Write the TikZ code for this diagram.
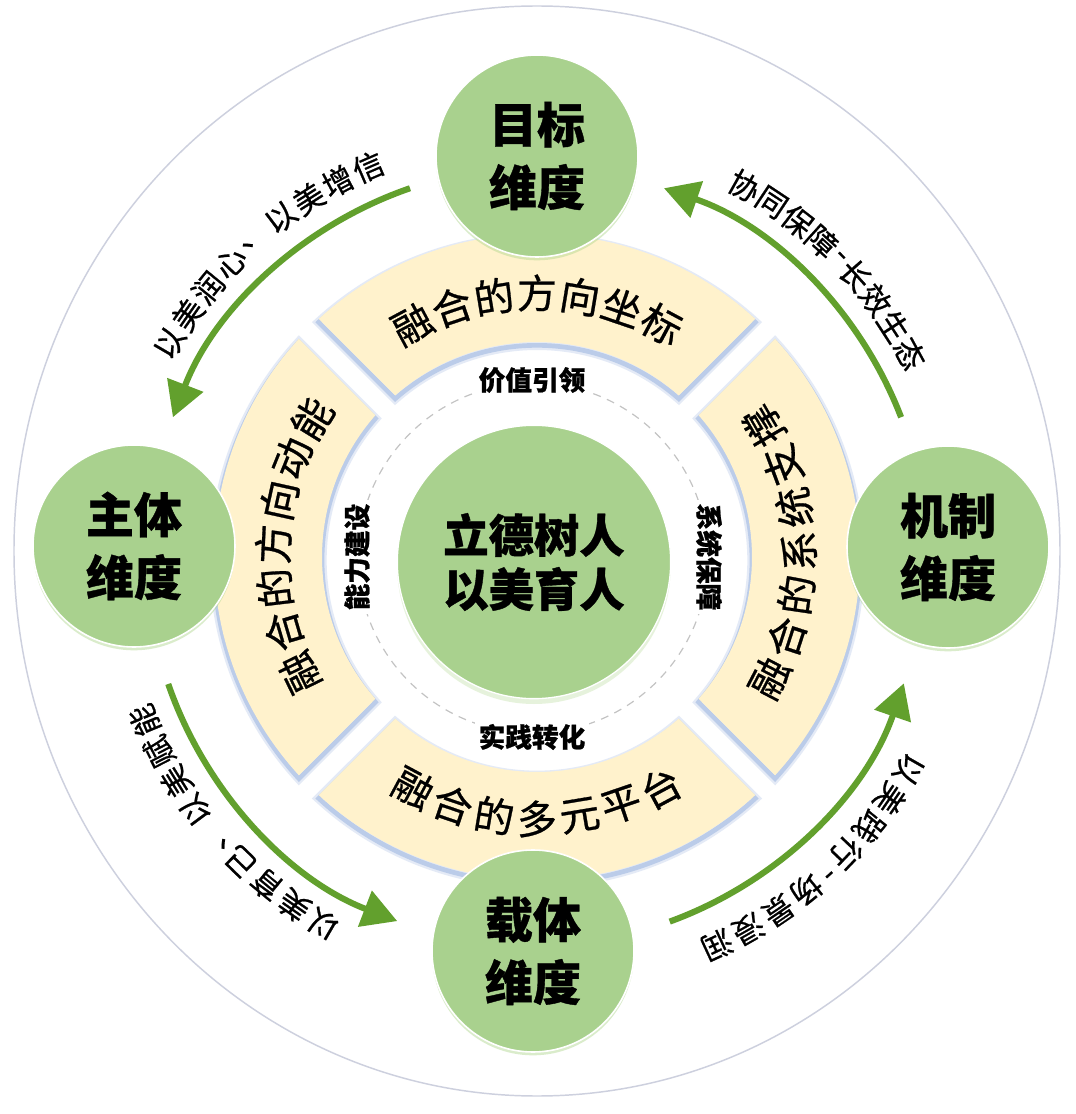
\documentclass[tikz,border=0pt]{standalone}
\usepackage{fontspec}
\newfontfamily\cjk[BoldFeatures={FakeBold=0.8}]{Noto Sans CJK SC}
\newfontfamily\cjkmed[FakeBold=0.7]{Noto Sans CJK SC}
\usetikzlibrary{arrows.meta,shadows}
\definecolor{dimgreen}{RGB}{169,209,142}
\definecolor{glowgreen}{RGB}{175,215,140}
\definecolor{ringyellow}{RGB}{255,242,204}
\definecolor{ringblue}{RGB}{180,199,231}
\definecolor{arrowgreen}{RGB}{98,160,45}
\definecolor{ellgray}{RGB}{205,208,222}
\definecolor{dashgray}{RGB}{195,195,195}
\tikzset{
  dimcircle/.style={circle, fill=dimgreen, draw=white, line width=1.2pt,
    minimum size=151.5pt, inner sep=0pt, align=center,
    font=\cjk\bfseries\fontsize{36}{47}\selectfont,
    drop shadow={shadow xshift=0pt, shadow yshift=-2.5pt, fill=glowgreen, opacity=0.45}},
  corecircle/.style={circle, fill=dimgreen, draw=white, line width=1pt,
    minimum size=205pt, inner sep=0pt, align=center,
    font=\cjk\bfseries\fontsize{34}{40.5}\selectfont,
    drop shadow={shadow xshift=0pt, shadow yshift=-4pt, fill=glowgreen, opacity=0.3}},
  ringtext/.style={font=\cjkmed\fontsize{30}{30}\selectfont, inner sep=0pt},
  arclabel/.style={font=\cjkmed\fontsize{23}{23}\selectfont, inner sep=0pt},
  innerlabel/.style={fill=white, font=\cjk\bfseries\fontsize{20}{20}\selectfont, inner sep=3pt},
  flowarrow/.style={arrowgreen, line width=4.6pt, -{Triangle[length=26pt,width=28pt]}},
}
\begin{document}
\begin{tikzpicture}[x=0.75pt,y=0.75pt]
\useasboundingbox (-537,-557) rectangle (538,557);
\fill[white] (-537,-557) rectangle (538,557);

% outer ellipse
\draw[ellgray, line width=1.1pt] (0,6) ellipse [x radius=523, y radius=545];

% ring segments
\foreach \b in {45,135,225,315} {
  \draw[ringblue!60, line width=7pt, opacity=0.6, yshift=-2.5]
    (\b+2.48:323) arc[start angle=\b+2.48, end angle=\b+87.52, radius=323]
    -- (\b+86.27:215) arc[start angle=\b+86.27, end angle=\b+3.73, radius=215] -- cycle;
  \draw[ringblue, line width=3.5pt, opacity=0.85, yshift=-2.5]
    (\b+2.48:323) arc[start angle=\b+2.48, end angle=\b+87.52, radius=323]
    -- (\b+86.27:215) arc[start angle=\b+86.27, end angle=\b+3.73, radius=215] -- cycle;
  \fill[ringyellow]
    (\b+2.48:323) arc[start angle=\b+2.48, end angle=\b+87.52, radius=323]
    -- (\b+86.27:215) arc[start angle=\b+86.27, end angle=\b+3.73, radius=215] -- cycle;
}

% dashed circle
\draw[dashgray, line width=0.9pt, dash pattern=on 6pt off 5pt] (-4,-1) circle[radius=175];

% inner labels
\node[innerlabel] (lv) at (-5,177) {价值引领};
\node[innerlabel] (lp) at (-5,-180) {实践转化};
\node[innerlabel, rotate=90] (lc) at (-180,0) {能力建设};
\node[innerlabel, rotate=-90] (ls) at (172,0) {系统保障};

% core
\node[corecircle] (core) at (-3,-5) {立德树人\\以美育人};

% ring texts
\foreach \ch [count=\i] in {融,合,的,方,向,坐,标} {
  \pgfmathsetmacro\a{118.2-(\i-1)*9.4}
  \node[ringtext, rotate=\a-90] (rt-\i) at (\a:264) {\ch};
}
\foreach \ch [count=\i] in {融,合,的,方,向,动,能} {
  \pgfmathsetmacro\a{206-(\i-1)*9.6}
  \node[ringtext, rotate=\a-90] (rl-\i) at (\a:264) {\ch};
}
\foreach \ch [count=\i] in {融,合,的,系,统,支,撑} {
  \pgfmathsetmacro\a{-27.5+(\i-1)*9.6}
  \node[ringtext, rotate=\a+90] (rr-\i) at (\a:262) {\ch};
}
\foreach \ch [count=\i] in {融,合,的,多,元,平,台} {
  \pgfmathsetmacro\a{241.8+(\i-1)*9.4}
  \node[ringtext, rotate=\a+90] (rb-\i) at (\a:262) {\ch};
}

% dimension circles
\node[dimcircle] (goal) at (0,401) {目标\\维度};
\node[dimcircle] (subj) at (-403,11) {主体\\维度};
\node[dimcircle] (mech) at (411,10) {机制\\维度};
\node[dimcircle] (carr) at (-4,-394) {载体\\维度};

% flow arrows
\coordinate (a1s) at (109:390); \coordinate (a1e) at (159:390);
\coordinate (a2s) at (21:390);  \coordinate (a2e) at (71:390);
\coordinate (a3s) at (199:390); \coordinate (a3e) at (249:390);
\coordinate (a4s) at (290:388); \coordinate (a4e) at (341:388);
\draw[flowarrow] (a1s) arc[start angle=109, end angle=159, radius=390];
\draw[flowarrow] (a2s) arc[start angle=21, end angle=71, radius=390];
\draw[flowarrow] (a3s) arc[start angle=199, end angle=249, radius=390];
\draw[flowarrow] (a4s) arc[start angle=290, end angle=341, radius=388];

% arrow labels
\foreach \ch/\a [count=\i] in {以/149.8,美/145.25,润/140.7,心/136.15,、/131.6,以/127.05,美/122.5,增/117.95,信/113.4} {
  \node[arclabel, rotate=\a-90] (tl-\i) at (\a:425) {\ch};
}
\foreach \ch/\a [count=\i] in {协/60.8,同/56.5,保/52.2,障/47.9,-/44.7,长/41.5,效/37.2,生/32.9,态/28.6} {
  \node[arclabel, rotate=\a-90] (tr-\i) at (\a:425) {\ch};
}
\foreach \ch/\a [count=\i] in {以/239.8,美/235.15,育/230.5,己/225.85,、/221.2,以/216.55,美/211.9,赋/207.25,能/202.6} {
  \node[arclabel, rotate=\a-90] (bl-\i) at (\a:425) {\ch};
}
\foreach \ch/\a [count=\i] in {以/330.3,美/325.6,践/320.9,行/316.2,-/312.6,场/309.0,景/304.3,浸/299.6,润/294.9} {
  \node[arclabel, rotate=\a-90] (br-\i) at (\a:428) {\ch};
}
\end{tikzpicture}
\end{document}
